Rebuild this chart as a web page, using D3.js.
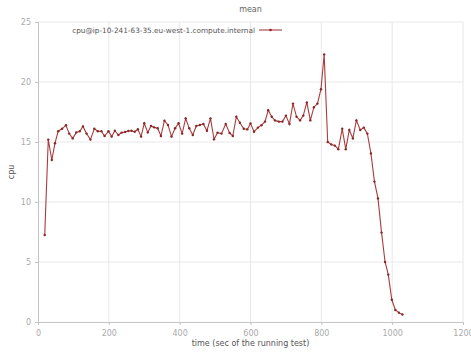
<!DOCTYPE html>
<html><head><meta charset="utf-8">
<script src="https://cdn.jsdelivr.net/npm/d3@7"></script>
<style>body{margin:0;background:#fff}svg{display:block}text{font-family:"DejaVu Sans",sans-serif}</style>
</head><body>
<svg id="c" width="471" height="354"></svg>
<script>
const times = [19,29,39,48,57,68,79,88,98,108,118,127,137,148,159,169,179,188,199,208,
217,227,236,246,255,264,273,282,291,300,310,319,328,338,347,357,367,377,387,397,
407,417,427,437,447,457,467,477,487,497,507,518,530,541,550,560,570,581,591,600,
610,621,631,641,650,660,669,680,690,700,710,720,730,740,749,759,769,779,789,799,
808,818,828,838,848,859,869,879,889,899,910,920,930,940,950,960,970,980,989,999,
1009,1019,1029];
const cpu = [7.25,15.2,13.5,14.9,15.9,16.1,16.4,15.7,15.3,15.8,15.9,16.3,15.7,15.2,16.1,15.9,15.9,15.5,15.9,15.45,
15.94,15.58,15.78,15.83,15.92,15.94,15.85,16.06,15.45,16.56,15.8,16.33,16.22,16.14,15.5,16.78,16.42,15.45,16.14,16.56,
15.7,16.97,16.14,15.58,16.33,16.42,16.5,15.94,16.97,15.22,15.78,15.7,16.5,15.75,15.5,17.1,16.6,16.1,16.05,16.55,
15.86,16.2,16.4,16.7,17.65,17.1,16.8,16.7,16.7,17.2,16.5,18.2,17.1,16.8,17.2,18.3,16.8,17.9,18.2,19.4,
22.3,15.0,14.8,14.7,14.4,16.1,14.4,16.0,15.3,16.8,16.0,16.2,15.7,14.05,11.7,10.3,7.45,5.0,3.95,1.85,
1.0,0.78,0.62];
const xTicks = [0,200,400,600,800,1000,1200];
const yTicks = [0,5,10,15,20,25];
const seriesName = "cpu@ip-10-241-63-35.eu-west-1.compute.internal";
const titleText = "mean", xLabel = "time (sec of the running test)", yLabel = "cpu";

const svg = d3.select("#c");
const L = 38, R = 463, T = 22, B = 322;
const x = d3.scaleLinear().domain([0,1200]).range([L,R]);
const y = d3.scaleLinear().domain([0,25]).range([B,T]);
const data = times.map((t,i)=>({t, v: cpu[i]}));

// grid
svg.append("g").selectAll("line").data(xTicks.slice(1)).join("line")
  .attr("x1",d=>x(d)).attr("x2",d=>x(d)).attr("y1",T).attr("y2",B)
  .attr("stroke","#e8e8e8").attr("stroke-width",1);
svg.append("g").selectAll("line").data(yTicks.slice(1)).join("line")
  .attr("x1",L).attr("x2",R).attr("y1",d=>y(d)).attr("y2",d=>y(d))
  .attr("stroke","#e8e8e8").attr("stroke-width",1);

// axes
const xa = svg.append("g").attr("transform",`translate(0,${B})`)
  .call(d3.axisBottom(x).tickValues(xTicks).tickSize(3).tickPadding(5).tickFormat(d3.format("d")));
const ya = svg.append("g").attr("transform",`translate(${L},0)`)
  .call(d3.axisLeft(y).tickValues(yTicks).tickSize(3).tickPadding(4).tickFormat(d3.format("d")));
[xa,ya].forEach(a=>{
  a.select(".domain").attr("stroke","#c4c4c4");
  a.selectAll(".tick line").attr("stroke","#c4c4c4");
  a.selectAll("text").attr("fill","#aaaaaa").style("font-size","8px");
});

// line
const lineGen = d3.line().x(d=>x(d.t)).y(d=>y(d.v));
svg.append("path").datum(data).attr("d",lineGen)
  .attr("fill","none").attr("stroke","#a83c3c").attr("stroke-width",1.1);
svg.append("g").selectAll("circle").data(data).join("circle")
  .attr("cx",d=>x(d.t)).attr("cy",d=>y(d.v)).attr("r",1.2).attr("fill","#8b2727");

// titles
svg.append("text").attr("x",(L+R)/2).attr("y",12).attr("text-anchor","middle")
  .attr("fill","#666").style("font-size","8px").text(titleText);
svg.append("text").attr("x",(L+R)/2).attr("y",346).attr("text-anchor","middle")
  .attr("fill","#555").style("font-size","8px").text(xLabel);
svg.append("text").attr("transform",`translate(14,${(T+B)/2}) rotate(-90)`).attr("text-anchor","middle")
  .attr("fill","#555").style("font-size","8px").text(yLabel);

// legend
svg.append("text").attr("x",255).attr("y",33).attr("text-anchor","end")
  .attr("fill","#555").style("font-size","7.3px").text(seriesName);
svg.append("line").attr("x1",259).attr("x2",282).attr("y1",30).attr("y2",30)
  .attr("stroke","#a83c3c").attr("stroke-width",1.1);
svg.append("circle").attr("cx",270.5).attr("cy",30).attr("r",1.3).attr("fill","#8b2727");
</script>
</body></html>
